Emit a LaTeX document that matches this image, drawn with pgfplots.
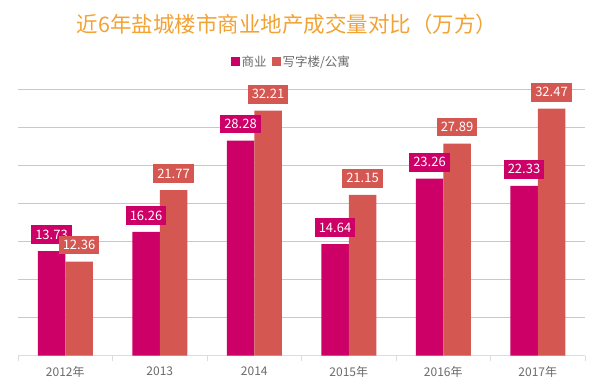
\documentclass[border=0pt]{standalone}
\usepackage{pgfplots}
\pgfplotsset{compat=1.18}
\usepackage{fontspec}
\setmainfont{Noto Sans CJK SC}
\definecolor{cA}{HTML}{CC0066}
\definecolor{cB}{HTML}{D55752}
\definecolor{titlec}{HTML}{F3A234}
\definecolor{gridc}{HTML}{EBBE9C}
\definecolor{axisc}{HTML}{DCDCDC}
\definecolor{labc}{HTML}{6A6A6A}
\begin{document}
\begin{tikzpicture}
\path[use as bounding box] (0,0) rectangle (607pt,389pt);
\node[text=titlec, font=\fontsize{21.5}{24}\selectfont] at (287pt,365pt) {近6年盐城楼市商业地产成交量对比（万方）};
\begin{axis}[
  at={(18pt,33.5pt)}, anchor=south west,
  scale only axis, width=567pt, height=266pt,
  xmin=-0.5, xmax=5.5, ymin=0, ymax=35,
  ybar=0pt, bar width=27.5pt,
  separate axis lines,
  axis x line*=bottom, axis y line*=left,
  y axis line style={draw=none},
  x axis line style={draw=axisc, line width=1pt},
  ytick={5,10,...,35}, yticklabels={},
  ytick style={draw=none},
  ymajorgrids,
  every axis grid/.style={draw=gridc, line width=1pt},
  y grid style={draw=gridc, line width=1pt},
  major grid style={draw=gridc, line width=1pt},
  xtick={0,...,5},
  xticklabels={2012年,2013,2014,2015年,2016年,2017年},
  major x tick style={draw=none},
  minor xtick={-0.5,0.5,...,5.5},
  minor x tick style={draw=axisc, line width=0.6pt},
  minor tick length=5pt, tick align=outside,
  xticklabel style={text=labc, font=\fontsize{12}{14}\selectfont, yshift=-3pt},
  legend style={at={(0.482,1.104)}, anchor=center, draw=none, fill=none,
    legend columns=-1, font=\fontsize{12.5}{14}\selectfont, text=labc,
    /tikz/every even column/.append style={column sep=3pt}},
  legend image code/.code={\fill[#1] (0pt,-4.5pt) rectangle (9pt,4.5pt);},
  point meta=explicit symbolic,
  nodes near coords,
  every node near coord/.append style={text=white, font=\fontsize{13}{15}\selectfont, inner xsep=4pt, inner ysep=4.5pt, yshift=7pt},
]
\addplot[fill=cA, draw=none, every node near coord/.append style={fill=cA}] coordinates {
  (0,13.73) [13.73] (1,16.26) [16.26] (2,28.28) [28.28] (3,14.64) [14.64] (4,23.26) [23.26] (5,22.33) [22.33]};
\addplot[fill=cB, draw=none, every node near coord/.append style={fill=cB}] coordinates {
  (0,12.36) [12.36] (1,21.77) [21.77] (2,32.21) [32.21] (3,21.15) [21.15] (4,27.89) [27.89] (5,32.47) [32.47]};
\legend{商业,写字楼/公寓}
\end{axis}
\end{tikzpicture}
\end{document}
